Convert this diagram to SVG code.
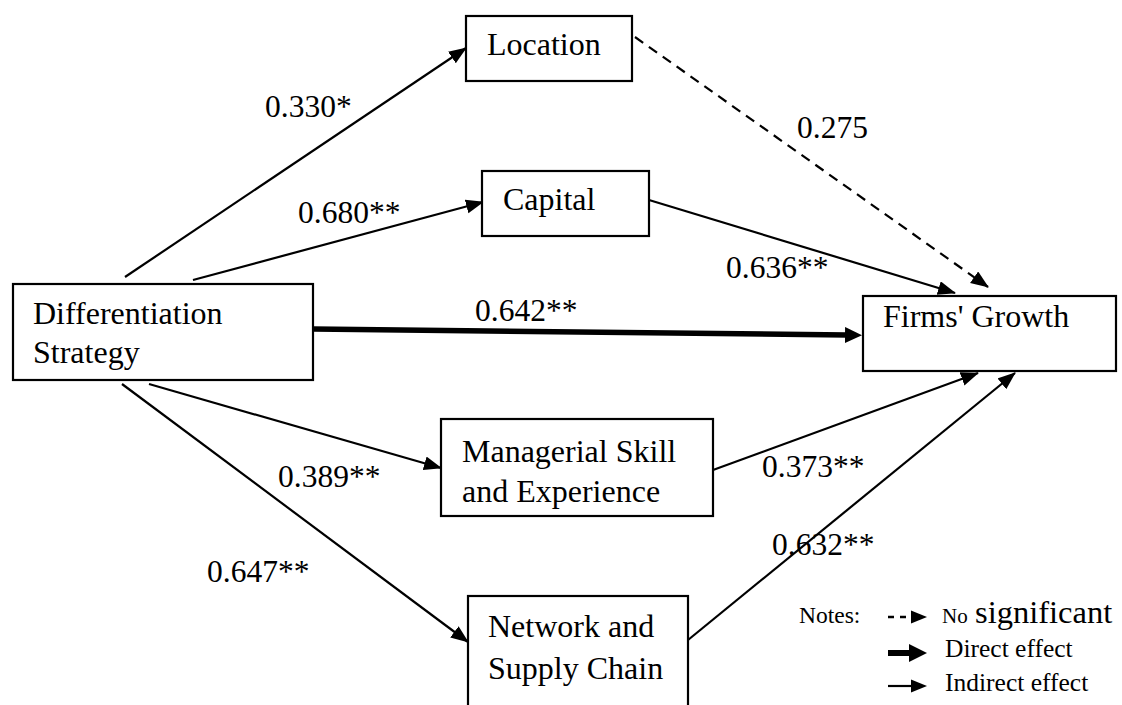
<svg xmlns="http://www.w3.org/2000/svg" width="1122" height="705" viewBox="0 0 1122 705">
  <style>
    .box { fill: #fff; stroke: #000; stroke-width: 2.2; }
    .t { font-size: 32px; fill: #000; }
    .lbl { font-size: 31.5px; fill: #000; }
    .note { font-size: 23.5px; fill: #000; }
    .key { font-size: 25.5px; fill: #000; }
    .thin { stroke: #000; stroke-width: 2.2; fill: none; marker-end: url(#ah); }
    .thick { stroke: #000; stroke-width: 5.5; fill: none; marker-end: url(#ahb); }
    .dash { stroke: #000; stroke-width: 2.2; fill: none; stroke-dasharray: 10 7; marker-end: url(#ah); }
  </style>
  <defs>
    <marker id="ah" markerUnits="userSpaceOnUse" markerWidth="20" markerHeight="16" refX="17" refY="7" orient="auto">
      <path d="M0,0 L18,7 L0,14 z" fill="#000"/>
    </marker>
    <marker id="ahb" markerUnits="userSpaceOnUse" markerWidth="20" markerHeight="18" refX="2" refY="8" orient="auto">
      <path d="M0,0 L17,8 L0,16 z" fill="#000"/>
    </marker>
  </defs>
  <rect width="1122" height="705" fill="#fff"/>

  <g id="connectors">
    <line class="thin" x1="125" y1="277" x2="466" y2="48"/>
    <line class="thin" x1="193" y1="280" x2="483" y2="202"/>
    <line class="thick" x1="313" y1="329" x2="847" y2="335"/>
    <line class="thin" x1="149" y1="384" x2="441" y2="468"/>
    <line class="thin" x1="122" y1="384" x2="468" y2="642"/>
    <line class="thin" x1="649" y1="200" x2="955" y2="293"/>
    <line class="dash" x1="635" y1="37" x2="988" y2="287"/>
    <line class="thin" x1="713" y1="470" x2="978" y2="373"/>
    <line class="thin" x1="688" y1="640" x2="1015" y2="373"/>
  </g>

  <g id="edge-labels" font-family="'Liberation Serif', Tinos, 'DejaVu Serif', serif">
    <text class="lbl" x="265" y="117">0.330*</text>
    <text class="lbl" x="298" y="223">0.680**</text>
    <text class="lbl" x="797" y="138">0.275</text>
    <text class="lbl" x="726" y="278">0.636**</text>
    <text class="lbl" x="475" y="321">0.642**</text>
    <text class="lbl" x="278" y="487">0.389**</text>
    <text class="lbl" x="207" y="582">0.647**</text>
    <text class="lbl" x="762" y="477">0.373**</text>
    <text class="lbl" x="772" y="555">0.632**</text>
  </g>

  <g id="nodes" font-family="'Liberation Serif', Tinos, 'DejaVu Serif', serif">
    <g id="node-location">
      <rect class="box" x="466" y="16" width="166" height="65"/>
      <text class="t" x="487" y="55">Location</text>
    </g>
    <g id="node-capital">
      <rect class="box" x="482" y="171" width="167" height="65"/>
      <text class="t" x="503" y="210">Capital</text>
    </g>
    <g id="node-differentiation">
      <rect class="box" x="13" y="284" width="300" height="96"/>
      <text class="t" x="33" y="324">Differentiation</text>
      <text class="t" x="33" y="363">Strategy</text>
    </g>
    <g id="node-growth">
      <rect class="box" x="863" y="296" width="253" height="75"/>
      <text class="t" x="883" y="327">Firms' Growth</text>
    </g>
    <g id="node-managerial">
      <rect class="box" x="441" y="419" width="272" height="97"/>
      <text class="t" x="462" y="462">Managerial Skill</text>
      <text class="t" x="462" y="502">and Experience</text>
    </g>
    <g id="node-network">
      <rect class="box" x="468" y="596" width="220" height="130"/>
      <text class="t" x="488" y="637">Network and</text>
      <text class="t" x="488" y="679">Supply Chain</text>
    </g>
  </g>

  <g id="legend" font-family="'Liberation Serif', Tinos, 'DejaVu Serif', serif">
    <text class="note" x="799" y="623">Notes:</text>
    <line x1="888" y1="617" x2="912" y2="617" stroke="#000" stroke-width="2.5" stroke-dasharray="6 6"/>
    <path d="M911,610.5 L927,617 L911,623.5 z" fill="#000"/>
    <text x="942" y="623" font-size="21" fill="#000">No</text>
    <text x="975" y="623" font-size="32.5" fill="#000">significant</text>
    <line x1="888" y1="653" x2="911" y2="653" stroke="#000" stroke-width="6"/>
    <path d="M909,644 L927,653 L909,662 z" fill="#000"/>
    <text class="key" x="945" y="657">Direct effect</text>
    <line x1="888" y1="686" x2="913" y2="686" stroke="#000" stroke-width="2.2"/>
    <path d="M911,679.5 L927,686 L911,692.5 z" fill="#000"/>
    <text class="key" x="945" y="691">Indirect effect</text>
  </g>
</svg>
